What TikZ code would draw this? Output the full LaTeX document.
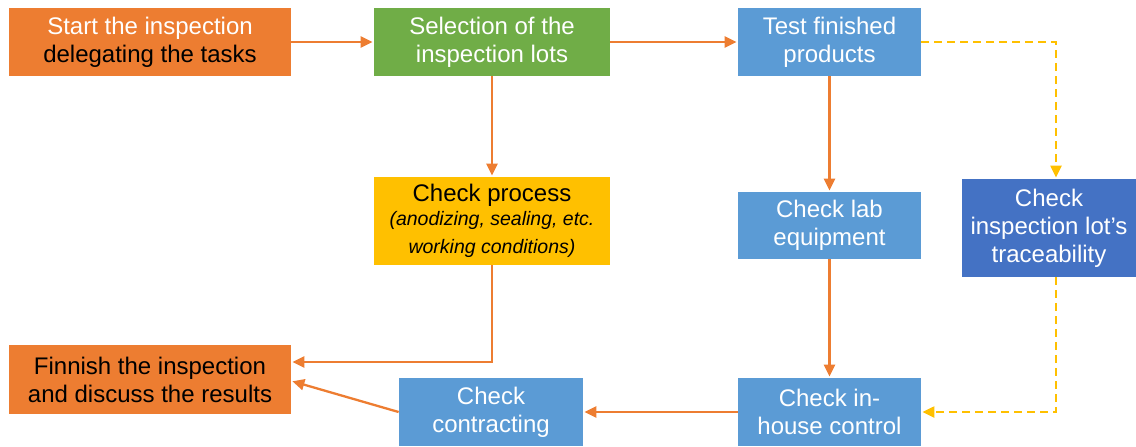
\documentclass[tikz,border=0pt]{standalone}
\usepackage{fontspec}
\setmainfont{Liberation Sans}
\usetikzlibrary{arrows.meta}

\definecolor{boxorange}{HTML}{ED7D31}
\definecolor{boxgreen}{HTML}{70AD47}
\definecolor{boxblue}{HTML}{5B9BD5}
\definecolor{boxyellow}{HTML}{FFC000}
\definecolor{boxdarkblue}{HTML}{4472C4}

\newcommand{\smallit}{\fontsize{9.75}{11}\selectfont\itshape}

\tikzset{
	box/.style={rectangle, inner sep=0pt, align=center, font=\fontsize{12}{14}\selectfont},
	flow/.style={draw=boxorange, line width=1.15pt, shorten >=0.5pt, -{Triangle[length=6pt,width=5.5pt]}},
	trace/.style={draw=boxyellow, line width=1.1pt, dash pattern=on 4pt off 2.5pt, shorten >=0.5pt, -{Triangle[length=6pt,width=5.5pt]}}
}

\begin{document}
\begin{tikzpicture}[x=0.5pt,y=-0.5pt]
		\useasboundingbox (0,0) rectangle (1136,446);
		
		\node[box, fill=boxorange, minimum width=141pt, minimum height=34pt] (start) at (150,42) {\textcolor{white}{Start the inspection}\\delegating the tasks};
		\node[box, fill=boxgreen, text=white, minimum width=118pt, minimum height=34pt] (select) at (492,42) {Selection of the\\inspection lots};
		\node[box, fill=boxblue, text=white, minimum width=91.5pt, minimum height=34pt] (test) at (829.5,42) {Test finished\\products};
		
		\node[box, fill=boxyellow, minimum width=118pt, minimum height=44pt] (process) at (492,221) {Check process\\[-2pt]\smallit (anodizing, sealing, etc.\\\smallit working conditions)};
		\node[box, fill=boxblue, text=white, minimum width=91.5pt, minimum height=33.5pt] (lab) at (829.5,225.5) {Check lab\\equipment};
		\node[box, fill=boxdarkblue, text=white, minimum width=87pt, minimum height=49pt] (traceab) at (1049,228) {Check\\inspection lot's\\traceability};
		
		\node[box, fill=boxorange, minimum width=141pt, minimum height=34.5pt] (finish) at (150,379.5) {Finnish the inspection\\and discuss the results};
		\node[box, fill=boxblue, text=white, minimum width=92pt, minimum height=34pt] (contract) at (491,412) {Check\\contracting};
		\node[box, fill=boxblue, text=white, minimum width=91.5pt, minimum height=34pt] (inhouse) at (829.5,412) {Check in-\\house control};
		
		\draw[flow] (start) -- (select);
		\draw[flow] (select) -- (test);
		\draw[flow] (select) -- (process);
		\draw[flow] (test) -- (lab);
		\draw[flow] (lab) -- (inhouse);
		\draw[flow] (process.south) |- ([yshift=8.75pt]finish.east);
		\draw[flow] (inhouse) -- (contract);
		\draw[flow] (contract.west) -- ([yshift=-0.75pt]finish.east);
		
		%\draw[trace] (test.east) -- (traceab.north);
		\draw[trace] (test.east) -| ([xshift=3.5pt]traceab.north);
		\draw[trace] ([xshift=3.5pt]traceab.south) |- (inhouse.east);
\end{tikzpicture}
\end{document}
